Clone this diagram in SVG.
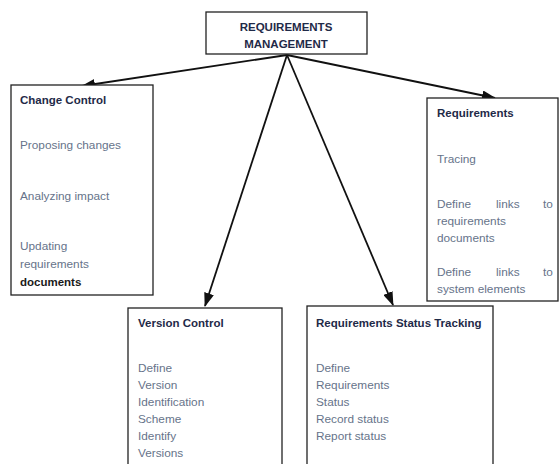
<svg xmlns="http://www.w3.org/2000/svg" width="560" height="464" viewBox="0 0 560 464">
<style>
.box{fill:#fff;stroke:#222;stroke-width:1.3}
.t{font-family:"Liberation Sans",Arial,sans-serif;font-size:11.5px;font-weight:bold;fill:#1f2a48}
.b{font-family:"Liberation Sans",Arial,sans-serif;font-size:11.8px;fill:#66738a}
.c{stroke:#111;stroke-width:1.8;fill:none;marker-end:url(#ah)}
</style>
<defs>
<marker id="ah" viewBox="0 0 14 10" refX="13" refY="5" markerWidth="14" markerHeight="10" markerUnits="userSpaceOnUse" orient="auto">
<path d="M0,0 L14,5 L0,10 Z" fill="#111"/>
</marker>
</defs>
<rect width="560" height="464" fill="#fff"/>
<g id="connectors">
<line class="c" x1="287" y1="55" x2="82" y2="86"/>
<line class="c" x1="287" y1="55" x2="495" y2="98"/>
<line class="c" x1="287" y1="55" x2="205" y2="306"/>
<line class="c" x1="287" y1="55" x2="393" y2="305"/>
</g>
<g id="requirements-management">
<rect class="box" x="206" y="12" width="161" height="42"/>
<text class="t" x="286" y="31" text-anchor="middle" font-size="10.5">REQUIREMENTS</text>
<text class="t" x="286" y="48" text-anchor="middle" font-size="10.5">MANAGEMENT</text>
</g>
<g id="change-control">
<rect class="box" x="11" y="85" width="142" height="210"/>
<text class="t" x="20" y="104">Change Control</text>
<text class="b" x="20" y="149">Proposing changes</text>
<text class="b" x="20" y="200">Analyzing impact</text>
<text class="b" x="20" y="250">Updating</text>
<text class="b" x="20" y="268">requirements</text>
<text class="t" x="20" y="286" style="fill:#1a1a1a">documents</text>
</g>
<g id="requirements-tracing">
<rect class="box" x="427" y="98" width="131" height="203"/>
<text class="t" x="437" y="117">Requirements</text>
<text class="b" x="437" y="163">Tracing</text>
<text class="b" x="437" y="208">Define</text>
<text class="b" x="496" y="208">links</text>
<text class="b" x="543" y="208">to</text>
<text class="b" x="437" y="225">requirements</text>
<text class="b" x="437" y="242">documents</text>
<text class="b" x="437" y="276">Define</text>
<text class="b" x="496" y="276">links</text>
<text class="b" x="543" y="276">to</text>
<text class="b" x="437" y="293">system elements</text>
</g>
<g id="version-control">
<rect class="box" x="128" y="308" width="154" height="170"/>
<text class="t" x="138" y="327">Version Control</text>
<text class="b" x="138" y="372">Define</text>
<text class="b" x="138" y="389">Version</text>
<text class="b" x="138" y="406">Identification</text>
<text class="b" x="138" y="423">Scheme</text>
<text class="b" x="138" y="440">Identify</text>
<text class="b" x="138" y="457">Versions</text>
</g>
<g id="status-tracking">
<rect class="box" x="307" y="306" width="186" height="172"/>
<text class="t" x="316" y="327">Requirements Status Tracking</text>
<text class="b" x="316" y="372">Define</text>
<text class="b" x="316" y="389">Requirements</text>
<text class="b" x="316" y="406">Status</text>
<text class="b" x="316" y="423">Record status</text>
<text class="b" x="316" y="440">Report status</text>
</g>
</svg>
